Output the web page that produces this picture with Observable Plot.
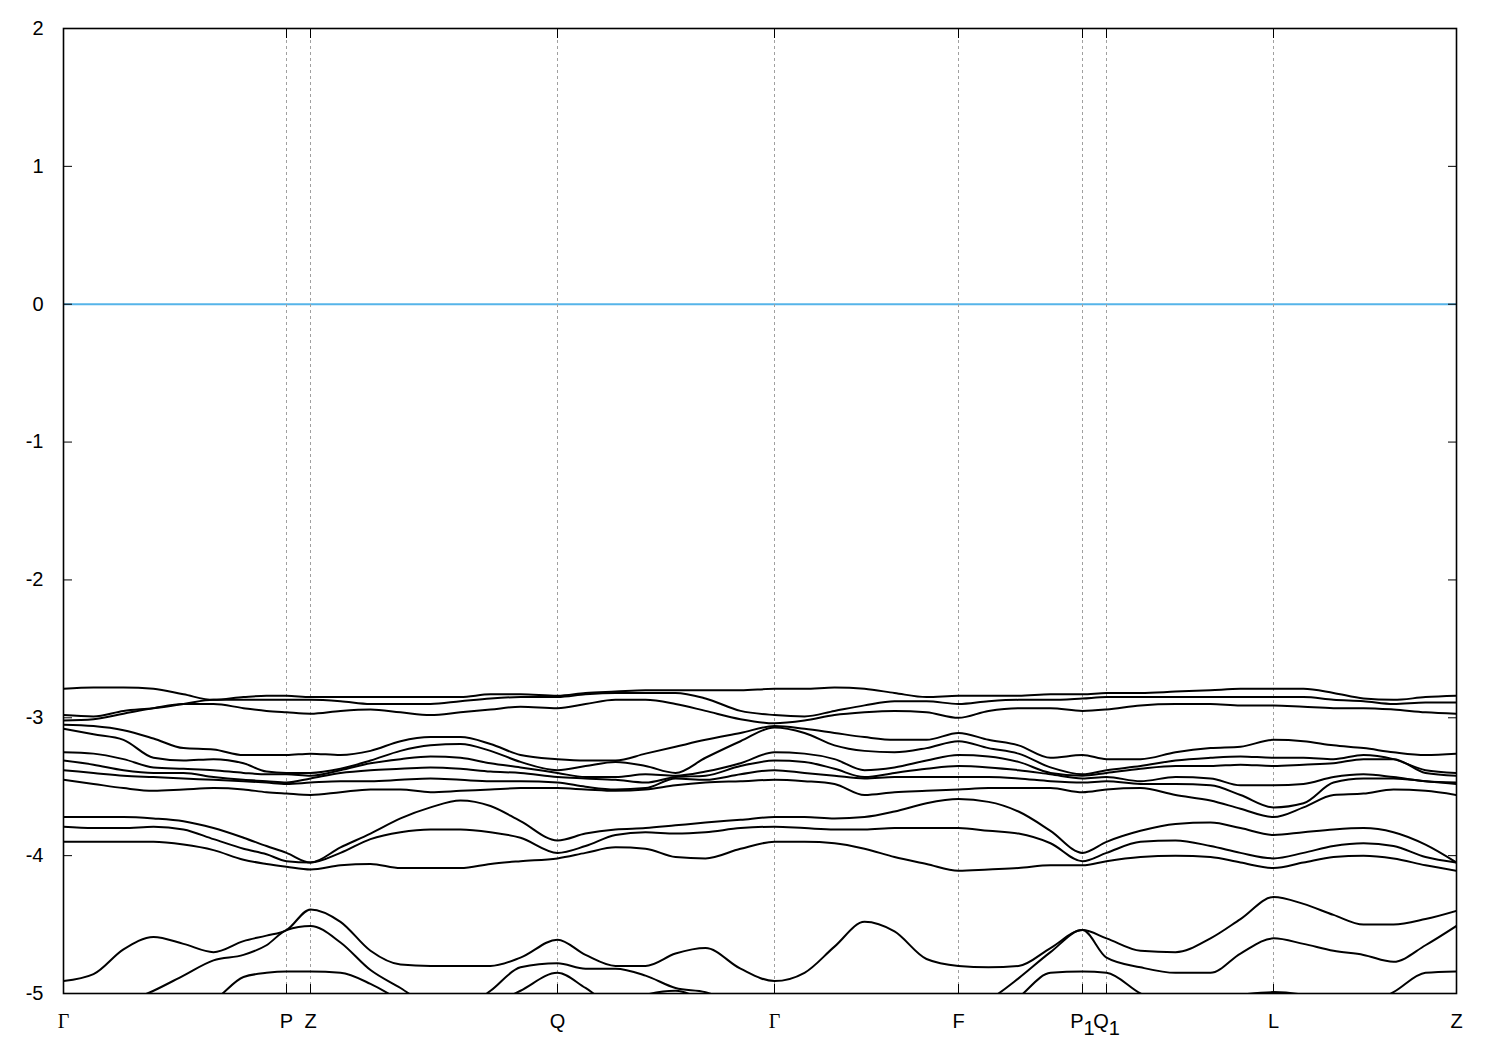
<!DOCTYPE html>
<html>
<head>
<meta charset="utf-8">
<script src="https://cdn.jsdelivr.net/npm/d3@7"></script>
<script src="https://cdn.jsdelivr.net/npm/@observablehq/plot@0.6"></script>
<style>
  html, body { margin: 0; padding: 0; background: #ffffff; }
  #chart svg { display: block; }
</style>
</head>
<body>
<div id="chart"></div>
<script>
// k-path coordinate (arbitrary units along the path)
const kPoints = [0, 30, 60, 90, 120, 150, 180, 203, 223, 247, 277, 307, 337, 367, 397, 427, 457, 494,
  522, 552, 582, 612, 642, 677, 711, 741, 771, 801, 831, 863, 895, 925, 955, 987, 1019, 1043,
  1077, 1112, 1147, 1177, 1210, 1240, 1270, 1300, 1330, 1362, 1393];

// high-symmetry points
const symK = [0, 223, 247, 494, 711, 895, 1019, 1043, 1210, 1393];
const symLabels = ["Γ", "P", "Z", "Q", "Γ", "F", "P1", "Q1", "L", "Z"];

// energy ticks
const yTicks = [-5, -4, -3, -2, -1, 0, 1, 2];

// band energies (eV) at kPoints
const band01 = [-2.79,-2.78,-2.78,-2.79,-2.83,-2.87,-2.85,-2.84,-2.84,-2.85,-2.85,-2.85,-2.85,-2.85,-2.85,-2.83,-2.83,-2.84,-2.82,-2.81,-2.80,-2.80,-2.80,-2.80,-2.79,-2.79,-2.78,-2.79,-2.82,-2.85,-2.84,-2.84,-2.84,-2.83,-2.83,-2.82,-2.82,-2.81,-2.80,-2.79,-2.79,-2.79,-2.82,-2.86,-2.87,-2.85,-2.84];
const band02 = [-2.98,-2.99,-2.95,-2.93,-2.90,-2.87,-2.87,-2.87,-2.87,-2.87,-2.88,-2.90,-2.90,-2.90,-2.88,-2.86,-2.85,-2.85,-2.83,-2.82,-2.82,-2.82,-2.86,-2.95,-2.98,-2.99,-2.95,-2.91,-2.88,-2.88,-2.90,-2.88,-2.87,-2.87,-2.86,-2.85,-2.85,-2.85,-2.85,-2.85,-2.85,-2.85,-2.87,-2.88,-2.90,-2.89,-2.89];
const band03 = [-3.02,-3.01,-2.97,-2.93,-2.90,-2.90,-2.93,-2.95,-2.96,-2.97,-2.95,-2.94,-2.96,-2.98,-2.96,-2.94,-2.92,-2.93,-2.90,-2.87,-2.87,-2.90,-2.95,-3.01,-3.04,-3.02,-2.98,-2.96,-2.95,-2.96,-3.00,-2.95,-2.93,-2.93,-2.95,-2.94,-2.91,-2.90,-2.90,-2.91,-2.91,-2.92,-2.93,-2.93,-2.94,-2.96,-2.97];
const band04 = [-3.05,-3.06,-3.09,-3.15,-3.22,-3.23,-3.27,-3.27,-3.27,-3.26,-3.27,-3.24,-3.17,-3.14,-3.14,-3.19,-3.27,-3.30,-3.31,-3.31,-3.26,-3.21,-3.16,-3.11,-3.06,-3.08,-3.11,-3.14,-3.16,-3.16,-3.11,-3.16,-3.20,-3.29,-3.27,-3.30,-3.30,-3.25,-3.22,-3.21,-3.16,-3.17,-3.20,-3.22,-3.25,-3.27,-3.26];
const band05 = [-3.08,-3.12,-3.16,-3.29,-3.31,-3.30,-3.33,-3.39,-3.40,-3.40,-3.37,-3.31,-3.24,-3.20,-3.19,-3.24,-3.32,-3.38,-3.35,-3.32,-3.35,-3.40,-3.29,-3.17,-3.07,-3.11,-3.20,-3.24,-3.25,-3.22,-3.17,-3.22,-3.26,-3.36,-3.41,-3.38,-3.35,-3.31,-3.29,-3.28,-3.29,-3.29,-3.30,-3.27,-3.30,-3.38,-3.40];
const band06 = [-3.25,-3.26,-3.30,-3.36,-3.37,-3.38,-3.40,-3.41,-3.41,-3.42,-3.38,-3.33,-3.30,-3.28,-3.29,-3.33,-3.36,-3.40,-3.43,-3.43,-3.41,-3.42,-3.39,-3.33,-3.25,-3.26,-3.30,-3.38,-3.36,-3.31,-3.27,-3.28,-3.32,-3.40,-3.42,-3.40,-3.37,-3.35,-3.35,-3.34,-3.35,-3.34,-3.33,-3.30,-3.30,-3.40,-3.42];
const band07 = [-3.31,-3.34,-3.38,-3.40,-3.40,-3.43,-3.45,-3.46,-3.47,-3.44,-3.40,-3.38,-3.37,-3.36,-3.37,-3.39,-3.40,-3.43,-3.44,-3.45,-3.47,-3.43,-3.42,-3.35,-3.31,-3.32,-3.37,-3.43,-3.40,-3.37,-3.35,-3.36,-3.38,-3.41,-3.44,-3.43,-3.46,-3.43,-3.44,-3.49,-3.49,-3.48,-3.43,-3.41,-3.43,-3.46,-3.47];
const band08 = [-3.38,-3.40,-3.42,-3.43,-3.44,-3.45,-3.46,-3.47,-3.48,-3.47,-3.46,-3.46,-3.45,-3.44,-3.45,-3.46,-3.46,-3.47,-3.50,-3.52,-3.51,-3.44,-3.45,-3.41,-3.38,-3.40,-3.42,-3.44,-3.43,-3.43,-3.43,-3.43,-3.44,-3.46,-3.47,-3.46,-3.48,-3.48,-3.49,-3.56,-3.65,-3.62,-3.47,-3.44,-3.44,-3.46,-3.48];
const band09 = [-3.45,-3.48,-3.51,-3.53,-3.52,-3.51,-3.52,-3.54,-3.55,-3.56,-3.54,-3.52,-3.52,-3.54,-3.53,-3.52,-3.51,-3.51,-3.52,-3.53,-3.52,-3.49,-3.47,-3.46,-3.45,-3.46,-3.48,-3.56,-3.54,-3.53,-3.52,-3.51,-3.51,-3.51,-3.54,-3.52,-3.51,-3.56,-3.60,-3.66,-3.72,-3.65,-3.56,-3.55,-3.52,-3.53,-3.56];
const band10 = [-3.72,-3.72,-3.72,-3.73,-3.75,-3.80,-3.87,-3.93,-3.98,-4.05,-3.94,-3.84,-3.73,-3.65,-3.60,-3.64,-3.75,-3.89,-3.84,-3.81,-3.80,-3.78,-3.76,-3.74,-3.72,-3.72,-3.73,-3.72,-3.68,-3.62,-3.59,-3.61,-3.68,-3.82,-3.98,-3.90,-3.82,-3.77,-3.76,-3.80,-3.85,-3.83,-3.81,-3.80,-3.83,-3.92,-4.05];
const band11 = [-3.79,-3.80,-3.80,-3.79,-3.81,-3.88,-3.95,-3.99,-4.04,-4.05,-3.98,-3.88,-3.83,-3.81,-3.81,-3.83,-3.87,-3.98,-3.93,-3.85,-3.83,-3.84,-3.83,-3.80,-3.79,-3.80,-3.81,-3.81,-3.80,-3.80,-3.80,-3.82,-3.84,-3.91,-4.04,-3.98,-3.90,-3.89,-3.93,-3.98,-4.02,-3.98,-3.93,-3.91,-3.93,-4.01,-4.05];
const band12 = [-3.90,-3.90,-3.90,-3.90,-3.92,-3.96,-4.03,-4.06,-4.08,-4.10,-4.07,-4.06,-4.09,-4.09,-4.09,-4.06,-4.04,-4.02,-3.98,-3.94,-3.95,-4.01,-4.02,-3.95,-3.90,-3.90,-3.91,-3.95,-4.01,-4.06,-4.11,-4.10,-4.09,-4.07,-4.07,-4.04,-4.01,-4.00,-4.01,-4.05,-4.09,-4.05,-4.01,-4.00,-4.02,-4.07,-4.11];
const band13 = [-4.91,-4.86,-4.68,-4.59,-4.64,-4.70,-4.62,-4.58,-4.54,-4.39,-4.48,-4.69,-4.79,-4.80,-4.80,-4.80,-4.74,-4.61,-4.72,-4.80,-4.80,-4.71,-4.67,-4.82,-4.91,-4.85,-4.66,-4.48,-4.55,-4.75,-4.80,-4.81,-4.80,-4.67,-4.54,-4.60,-4.69,-4.70,-4.60,-4.46,-4.30,-4.35,-4.43,-4.50,-4.50,-4.46,-4.40];
const band14 = [-5.27,-5.16,-5.07,-4.98,-4.87,-4.76,-4.72,-4.65,-4.54,-4.51,-4.63,-4.83,-4.96,-5.09,-5.12,-4.98,-4.81,-4.78,-4.82,-4.82,-4.87,-4.96,-4.99,-5.09,-5.12,-5.16,-5.20,-5.23,-5.23,-5.20,-5.16,-5.05,-4.89,-4.70,-4.54,-4.74,-4.81,-4.85,-4.85,-4.71,-4.60,-4.64,-4.69,-4.72,-4.77,-4.65,-4.51];
const band15 = [-5.49,-5.41,-5.31,-5.20,-5.11,-5.05,-4.88,-4.85,-4.84,-4.84,-4.85,-4.93,-5.05,-5.16,-5.20,-5.09,-4.98,-4.85,-4.96,-5.09,-5.01,-4.98,-5.05,-5.14,-5.20,-5.27,-5.34,-5.34,-5.34,-5.34,-5.31,-5.20,-5.03,-4.85,-4.84,-4.85,-5.00,-5.11,-5.05,-5.01,-4.99,-5.01,-5.09,-5.09,-4.99,-4.85,-4.84];

const bands = [band01, band02, band03, band04, band05, band06, band07, band08,
  band09, band10, band11, band12, band13, band14, band15];

const rows = bands.flatMap((b, i) => b.map((e, j) => ({band: i, k: kPoints[j], e})));
const labelOf = new Map(symK.map((k, i) => [k, symLabels[i]]));

const chart = Plot.plot({
  width: 1500,
  height: 1050,
  marginLeft: 63,
  marginRight: 44,
  marginTop: 28,
  marginBottom: 57,
  style: {fontFamily: "'Liberation Sans', Arial, sans-serif", fontSize: "20px", background: "#ffffff", color: "#000000"},
  x: {domain: [0, 1393]},
  y: {domain: [-5, 2]},
  marks: [
    Plot.ruleY([0], {stroke: "#56b4e9", strokeWidth: 2}),
    Plot.ruleX(symK.slice(1, -1), {stroke: "#a0a0a0", strokeWidth: 1, strokeDasharray: "3,3"}),
    Plot.line(rows, {x: "k", y: "e", z: "band", stroke: "#000000", strokeWidth: 2, curve: "monotone-x", clip: true}),
    Plot.frame({stroke: "#000000", strokeWidth: 1.6}),
    Plot.axisY({anchor: "left", ticks: yTicks, tickSize: -9, tickPadding: 29, tickFormat: d => String(d), label: null}),
    Plot.axisY({anchor: "right", ticks: yTicks, tickSize: -9, tickFormat: () => "", label: null}),
    Plot.axisX({anchor: "bottom", ticks: symK, tickSize: -9, tickPadding: 29, tickFormat: d => labelOf.get(d), label: null}),
    Plot.axisX({anchor: "top", ticks: symK, tickSize: -9, tickFormat: () => "", label: null})
  ]
});

document.getElementById("chart").appendChild(chart);

// subscripts for P1 / Q1, serif Gamma
d3.select(chart).selectAll('g[aria-label="x-axis tick label"] text').each(function () {
  const t = this.textContent;
  const m = /^(.)(\d)$/.exec(t);
  if (m) {
    this.textContent = "";
    d3.select(this).append("tspan").text(m[1]);
    d3.select(this).append("tspan").attr("dy", "0.37em").text(m[2]);
  } else if (t === "Γ") {
    d3.select(this).style("font-family", "'Liberation Serif', 'DejaVu Serif', serif");
  }
});
</script>
</body>
</html>
